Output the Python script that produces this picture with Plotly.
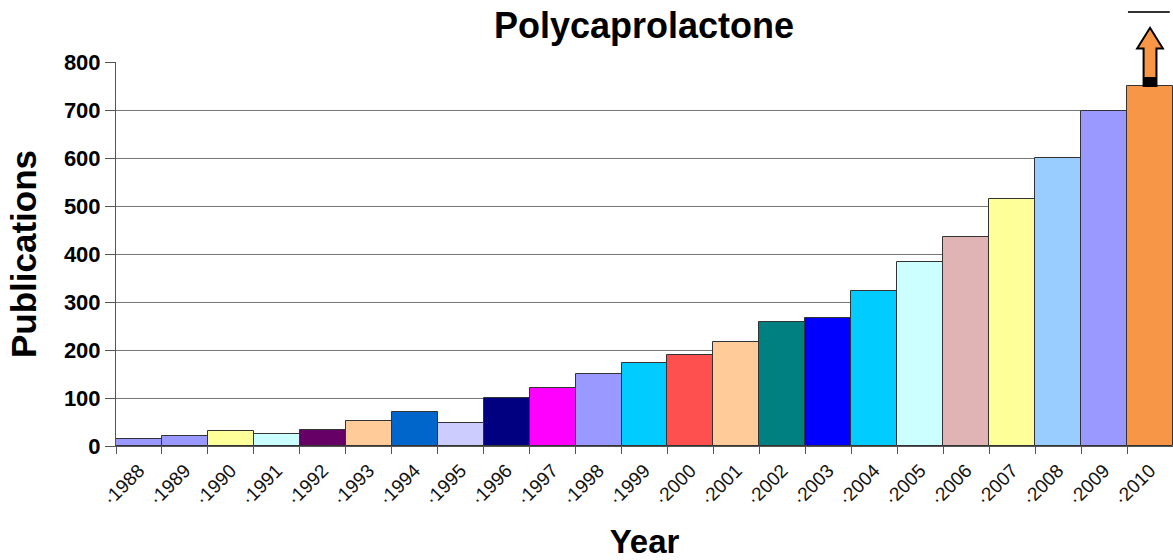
import plotly.graph_objects as go

years = [str(y) for y in range(1988, 2011)]
publications = [15, 20, 32, 26, 33, 52, 70, 47, 100, 121, 150, 173, 190, 217,
                258, 266, 323, 383, 435, 515, 600, 698, 750]
colors = ["#9999FF", "#9999FF", "#FFFF99", "#CCFFFF", "#660066", "#FFCC99",
          "#0066CC", "#CCCCFF", "#000080", "#FF00FF", "#9999FF", "#00CCFF",
          "#FF5050", "#FFCC99", "#008080", "#0000FF", "#00CCFF", "#CCFFFF",
          "#E0B4B4", "#FFFF99", "#99CCFF", "#9999FF", "#F79646"]
tick_labels = ["·" + y for y in years]
y_ticks = [0, 100, 200, 300, 400, 500, 600, 700, 800]

fig = go.Figure(go.Bar(
    x=years, y=publications,
    marker=dict(color=colors, line=dict(color="#333333", width=1)),
    width=1.0,
))

# Arrow above the last bar (paper coords computed from category index)
n = len(years)
ymax = 800
cx = (n - 1 + 0.5) / n
u = 1.0 / n
base = publications[-1] / ymax
head_w = 0.28 * u
shaft_w = 0.14 * u
tip = 1.089
neck = 1.035
path = (f"M {cx - shaft_w} {base} L {cx - shaft_w} {neck} L {cx - head_w} {neck} "
        f"L {cx} {tip} L {cx + head_w} {neck} L {cx + shaft_w} {neck} "
        f"L {cx + shaft_w} {base} Z")
shapes = [
    dict(type="path", xref="paper", yref="paper", path=path,
         fillcolor="#F79646", line=dict(color="black", width=2), layer="above"),
    dict(type="rect", xref="paper", yref="paper",
         x0=cx - shaft_w, x1=cx + shaft_w, y0=base, y1=base + 0.022,
         fillcolor="black", line=dict(color="black", width=1), layer="above"),
    dict(type="line", xref="paper", yref="paper",
         x0=cx - 0.48 * u, x1=cx + 0.43 * u, y0=1.13, y1=1.13,
         line=dict(color="#333333", width=2)),
]

fig.update_layout(
    width=1173, height=560,
    margin=dict(l=116, r=0, t=62, b=114, autoexpand=False),
    plot_bgcolor="white", paper_bgcolor="white",
    bargap=0,
    showlegend=False,
    title=dict(text="<b>Polycaprolactone</b>", x=0.549, xanchor="center",
               y=0.954, yanchor="middle",
               font=dict(family="Liberation Sans, Arial", size=36, color="black")),
    font=dict(family="Liberation Sans, Arial", color="black"),
    shapes=shapes,
)
fig.update_xaxes(
    tickvals=years, ticktext=tick_labels, tickangle=-45,
    tickfont=dict(size=19, color="#111111"),
    tickson="boundaries", ticks="outside", ticklen=7, tickcolor="#555555",
    ticklabelstandoff=5,
    showline=True, linecolor="#555555", linewidth=1,
    range=[-0.5, n - 0.5], automargin=False,
    title=dict(text="<b>Year</b>", font=dict(size=33), standoff=41),
)
fig.update_yaxes(
    range=[0, ymax], tickvals=y_ticks,
    ticktext=[f"<b>{v}</b>" for v in y_ticks],
    tickfont=dict(size=22),
    ticks="outside", ticklen=10, tickcolor="#555555",
    showline=True, linecolor="#555555", linewidth=1,
    showgrid=True, gridcolor="#777777", gridwidth=1,
    zeroline=False, automargin=False,
    title=dict(text="<b>Publications</b>", font=dict(size=35), standoff=16),
)

fig.write_html("out.html",
               config={"displayModeBar": False},
               post_script="document.body.style.margin='0';document.body.style.overflow='hidden';")
